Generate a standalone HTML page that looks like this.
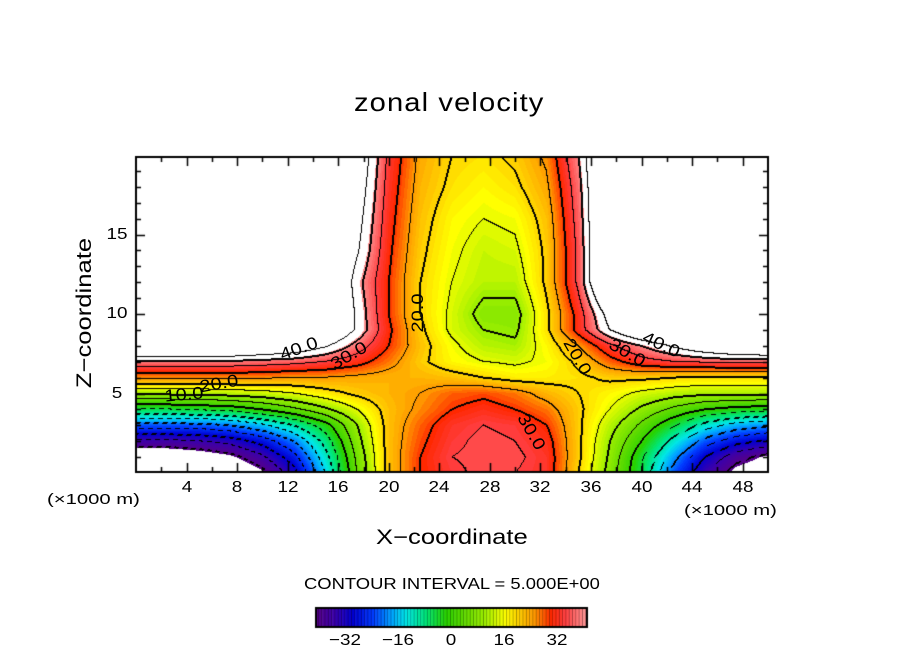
<!DOCTYPE html>
<html><head><meta charset="utf-8">
<style>
body{margin:0;background:#fff;}
#wrap{position:relative;width:904px;height:654px;overflow:hidden;background:#fff;font-family:"Liberation Sans",sans-serif;color:#000;}
.t{position:absolute;white-space:nowrap;}
canvas{position:absolute;left:0;top:0;}
</style></head>
<body>
<div id="wrap">
<canvas id="cv" width="904" height="654"></canvas>
<div class="t" style="left:354px;top:87px;font-size:26px;letter-spacing:1px;transform:scaleX(1.12);transform-origin:left;">zonal velocity</div>
<div class="t" style="left:376px;top:526px;font-size:21px;transform:scaleX(1.22);transform-origin:left;">X−coordinate</div>
<div class="t" style="left:10px;top:301px;font-size:21px;transform:rotate(-90deg) scaleX(1.22);transform-origin:center;width:150px;text-align:center;">Z−coordinate</div>
<div class="t" style="left:47px;top:491px;font-size:15px;transform:scaleX(1.35);transform-origin:left;">(×1000 m)</div>
<div class="t" style="left:684px;top:502px;font-size:15px;transform:scaleX(1.35);transform-origin:left;">(×1000 m)</div>
<div class="t" style="left:304px;top:576px;font-size:16px;transform:scaleX(1.15);transform-origin:left;">CONTOUR INTERVAL = 5.000E+00</div>
<div id="labels"></div>
</div>
<script>
const xs=[0,2.5,5,7.5,10,12.5,15,17.5,20,22.5,25,27.5,30,32.5,35,37.5,40,42.5,45,47.5,50];
const zs=[0,1,2,3,4,5,6,7,8,9,10,12,14,16,18,20];
const vals=[
[-55,-55,-52,-48,-42,-32,-15,5,22,30,34,36,35,33,20,8,-5,-22,-35,-43,-46],
[-47,-47,-45,-42,-36,-27,-12,6,22,30,35,36,36,33,21,9,-4,-18,-30,-38,-42],
[-36,-36,-35,-33,-28,-20,-8,8,22,29,34,36,35,32,21,10,0,-12,-22,-28,-31],
[-22,-22,-22,-20,-16,-10,-2,10,22,28,33,35,34,30,21,12,4,-4,-12,-17,-19],
[-5,-5,-4,-3,0,4,9,15,22,26,30,32,30,27,21,15,9,4,0,-2,-3],
[11,11,11,12,13,15,18,21,23,25,28,29,27,23,20,17,14,12,11,11,11],
[26,26,26,26,26,25,25,24,23,23,22,20,18,18,19,21,21,20,19,19,19],
[39,39,39,39,38,37,35,32,27,21,17,15,14,16,21,28,33,35,36,37,37],
[60,60,60,58,55,52,46,38,30,22,16,12,11,17,25,34,40,46,52,56,58],
[60,60,60,60,60,60,56,44,31,21,14,10,9,19,32,45,55,60,60,60,60],
[60,60,60,60,60,60,60,44,30,20,14,8,8,19,32,48,60,60,60,60,60],
[60,60,60,60,60,60,60,42,30,20,15,12,12,21,36,60,60,60,60,60,60],
[60,60,60,60,60,60,60,46,31,21,16,13,14,21,36,60,60,60,60,60,60],
[60,60,60,60,60,60,60,48,32,22,17,15,16,22,37,60,60,60,60,60,60],
[60,60,60,60,60,60,60,50,33,23,19,17,19,24,38,60,60,60,60,60,60],
[60,60,60,60,60,60,60,52,34,24,20,19,21,26,40,60,60,60,60,60,60]];
const xTicks=[4,8,12,16,20,24,28,32,36,40,44,48];
const zTicks=[5,10,15];
const cbTicks=[-32,-16,0,16,32];

const L=136,R=768,T=157,B=472;
const X=x=>L+x*(R-L)/50;
const Z=z=>473-z*15.9;
const stops=[[-42,[90,0,130]],[-36,[60,0,170]],[-30,[0,0,210]],[-24,[0,60,255]],[-18,[0,170,255]],[-14,[0,230,230]],[-8,[0,230,120]],[-2,[40,210,0]],[4,[100,220,0]],[10,[160,240,0]],[16,[255,255,0]],[20,[255,210,0]],[25,[255,150,0]],[30,[255,40,0]],[34,[255,60,60]],[41,[255,160,160]]];
function col(v){v=Math.floor(v);
 if(v<=stops[0][0])return stops[0][1];
 for(let i=1;i<stops.length;i++){if(v<=stops[i][0]){const a=stops[i-1],b=stops[i],t=(v-a[0])/(b[0]-a[0]);return a[1].map((c,k)=>Math.round(c+(b[1][k]-c)*t));}}
 return stops[stops.length-1][1];}
function field(x,z){
 let i=Math.min(xs.length-2,Math.max(0,Math.floor(x/2.5)));let tx=(x-xs[i])/(xs[i+1]-xs[i]);
 let j=0;while(j<zs.length-2&&z>zs[j+1])j++;let tz=(z-zs[j])/(zs[j+1]-zs[j]);
 tx=Math.max(0,Math.min(1,tx));tz=Math.max(0,Math.min(1,tz));
 const a=vals[j][i],b=vals[j][i+1],c=vals[j+1][i],d=vals[j+1][i+1];
 return (a*(1-tx)+b*tx)*(1-tz)+(c*(1-tx)+d*tx)*tz;}
const cv=document.getElementById('cv'),ctx=cv.getContext('2d');
ctx.fillStyle='#fff';ctx.fillRect(0,0,904,654);
const W=R-L,H=B-T;
const F=new Float32Array(W*H);
for(let py=0;py<H;py++)for(let px=0;px<W;px++){
 const x=(px+0.5)*50/W,z=(473-(T+py+0.5))/15.9;F[py*W+px]=field(x,z);}
const img=ctx.createImageData(W,H);
const lvl=v=>Math.floor(Math.max(-45,Math.min(45,v))/5);
for(let py=0;py<H;py++)for(let px=0;px<W;px++){
 const v=F[py*W+px];let c=(v>41||v<-41)?[255,255,255]:col(v);
 const l=lvl(v);let line=false,neg=false;
 const nb=[[1,0],[0,1],[-1,0],[0,-1]];
 for(const [dx,dy] of nb){const qx=px+dx,qy=py+dy;if(qx<0||qy<0||qx>=W||qy>=H)continue;
  const l2=lvl(F[qy*W+qx]);if(l2!==l){const lv=Math.max(l,l2)*5;
   if(dx+dy>0||((lv/5)%2===0)){line=true;if(lv<0)neg=true;}}}
 if(line&&!(neg&&((px+py)%9<4)))c=[0,0,0];
 const k=(py*W+px)*4;img.data[k]=c[0];img.data[k+1]=c[1];img.data[k+2]=c[2];img.data[k+3]=255;}
ctx.putImageData(img,L,T);
ctx.strokeStyle='#000';ctx.lineWidth=2;ctx.strokeRect(L,T,W,H);
ctx.lineWidth=1.5;ctx.beginPath();
for(let x=2;x<50;x+=2){const len=(x%4===0)?9:5,px=Math.round(X(x))+0.5;ctx.moveTo(px,B);ctx.lineTo(px,B-len);ctx.moveTo(px,T);ctx.lineTo(px,T+len);}
for(let z=1;z<20;z++){const len=(z%5===0)?9:5,py=Math.round(Z(z))+0.5;ctx.moveTo(L,py);ctx.lineTo(L+len,py);ctx.moveTo(R,py);ctx.lineTo(R-len,py);}
ctx.stroke();
const cbL=316,cbR=587,cbT=608,cbB=627,cv0=451,cs=3.3;
for(let v=-41;v<41;v++){const x0=cv0+v*cs;const c=col(v+0.5);ctx.fillStyle=`rgb(${c})`;ctx.fillRect(x0,cbT,cs+0.5,cbB-cbT);
 ctx.fillStyle='rgba(0,0,0,0.35)';ctx.fillRect(x0+cs-1,cbT,1,cbB-cbT);}
ctx.strokeStyle='#000';ctx.lineWidth=2;ctx.strokeRect(cbL,cbT,cbR-cbL,cbB-cbT);
const lab=document.getElementById('labels');
function addText(name,txt,x,y,size,rot,sx){const d=document.createElement('div');d.className='t';
 
 
 d.textContent=txt;d.style.fontSize=size+'px';d.style.left=x+'px';d.style.top=y+'px';
 d.style.transform='translate(-50%,-50%)'+(rot?` rotate(${rot}deg)`:'')+` scaleX(${sx||1.18})`;lab.appendChild(d);return d;}
xTicks.forEach(t=>addText('x-tick-label',String(t),X(t),488,16));
zTicks.forEach(t=>addText('y-tick-label',String(t),117,Z(t),16));
cbTicks.forEach(t=>addText('colorbar-tick-label',(t<0?'−':'')+Math.abs(t),cv0+t*cs,641,16));
[['40.0',299,349,-20],['30.0',349,356,-30],['20.0',219,384,-10],['10.0',184,395,-5],['20.0',418,313,-90],['40.0',661,345,25],['30.0',627,353,30],['20.0',577,357,60],['30.0',531,432,60]].forEach(a=>{
 addText('contour-label',a[0],a[1],a[2],17,a[3]);});
</script>
</body></html>
